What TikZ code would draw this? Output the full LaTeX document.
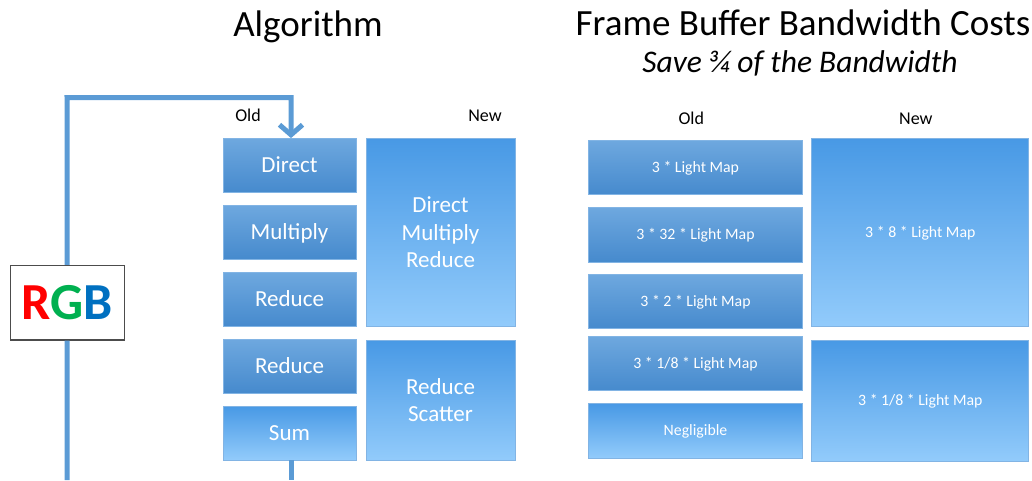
\documentclass[tikz,border=0pt]{standalone}
\usepackage{fontspec}
\setmainfont{Carlito}
\usetikzlibrary{arrows.meta}

\definecolor{flowblue}{RGB}{91,155,213}
\definecolor{darktop}{RGB}{110,168,223}
\definecolor{darkbot}{RGB}{70,138,205}
\definecolor{lighttop}{RGB}{72,153,229}
\definecolor{lightbot}{RGB}{146,203,251}
\definecolor{boxedge}{RGB}{130,180,228}
\definecolor{rgbred}{RGB}{255,0,0}
\definecolor{rgbgreen}{RGB}{0,176,80}
\definecolor{rgbblue}{RGB}{0,112,192}

\tikzset{
  stepbox/.style={rectangle, draw=boxedge, line width=0.8pt, inner sep=0pt,
    text=white, align=center},
  darkbox/.style={stepbox, top color=darktop, bottom color=darkbot},
  lightbox/.style={stepbox, top color=lighttop, bottom color=lightbot},
  algtext/.style={font=\fontsize{23}{27.5}\selectfont},
  algone/.style={algtext, text height=14.5pt, text depth=0pt},
  fbtext/.style={font=\fontsize{15.8}{19}\selectfont, text height=10pt, text depth=0pt},
  headtext/.style={font=\fontsize{18}{20}\selectfont, anchor=base},
  titletext/.style={font=\fontsize{37}{40}\selectfont, anchor=base},
  flow/.style={draw=flowblue, line width=5pt}
}

\begin{document}
\begin{tikzpicture}[x=1pt,y=-1pt]
    \useasboundingbox (0,0) rectangle (1032,480);
    % titles
    \node[titletext] (algtitle) at (308,36) {Algorithm};
    \node[titletext] (fbtitle) at (803,35.5) {Frame Buffer Bandwidth Costs};
    \node[titletext, font=\fontsize{31.5}{36}\selectfont\itshape] (fbsub) at (800,72) {Save ¾ of the Bandwidth};
    \node[headtext] (algold) at (248,121.7) {Old};
    \node[headtext] (algnew) at (485,121.7) {New};
    \node[headtext] (fbold) at (691.3,124) {Old};
    \node[headtext] (fbnew) at (915.8,124) {New};
    % algorithm, old
    \foreach \n/\y/\t/\s in {direct/165.5/Direct/darkbox, multiply/232/Multiply/darkbox,
      reduce/299.5/Reduce/darkbox, reducetwo/366/Reduce/darkbox, sum/433/Sum/lightbox}
    {
      \node[\s, algone, minimum width=133pt, minimum height=54pt] (\n) at (289.5,\y) {\t};
    }
    % algorithm, new
    \node[lightbox, algtext, minimum width=149pt, minimum height=188pt] (dmr) at (440.5,232.5)
      {Direct\\Multiply\\Reduce};
    \node[lightbox, algtext, minimum width=149pt, minimum height=120pt] (rs) at (440.5,400.3)
      {Reduce\\Scatter};
    % frame buffer costs, old
    \foreach \n/\y/\t/\s in {fbdirect/167.5/{3 * Light Map}/darkbox, fbmultiply/234.7/{3 * 32 * Light Map}/darkbox,
      fbreduce/301.5/{3 * 2 * Light Map}/darkbox, fbreducetwo/363.5/{3 * 1/8 * Light Map}/darkbox,
      fbsum/430.8/Negligible/lightbox}
    {
      \node[\s, fbtext, minimum width=214pt, minimum height=54.5pt] (\n) at (695.5,\y) {\t};
    }
    % frame buffer costs, new
    \node[lightbox, fbtext, minimum width=217pt, minimum height=188pt] (fbdmr) at (920.3,232.5)
      {3 * 8 * Light Map};
    \node[lightbox, fbtext, minimum width=217pt, minimum height=121pt] (fbrs) at (920.3,400.5)
      {3 * 1/8 * Light Map};
    % rgb loop
    \node[draw=black!70, line width=1.2pt, minimum width=114pt, minimum height=74.5pt, inner sep=0pt,
      text height=33pt, text depth=0pt,
      font=\fontsize{52}{52}\selectfont\bfseries] (rgb) at (67.2,302.7)
      {\textcolor{rgbred}{R}\textcolor{rgbgreen}{G}\textcolor{rgbblue}{B}};
    \coordinate (loop) at (67,97.5);
    \coordinate (inend) at (67,480);
    \coordinate (outend) at (291,480);
    \draw[flow, -{Straight Barb[length=10pt,width=23pt]}] (rgb.north) -- (loop) -| ([xshift=1.5pt]direct.north);
    \draw[flow] (rgb.south) -- (inend);
    \draw[flow] ([xshift=1.5pt]sum.south) -- (outend);
  \end{tikzpicture}
\end{document}
